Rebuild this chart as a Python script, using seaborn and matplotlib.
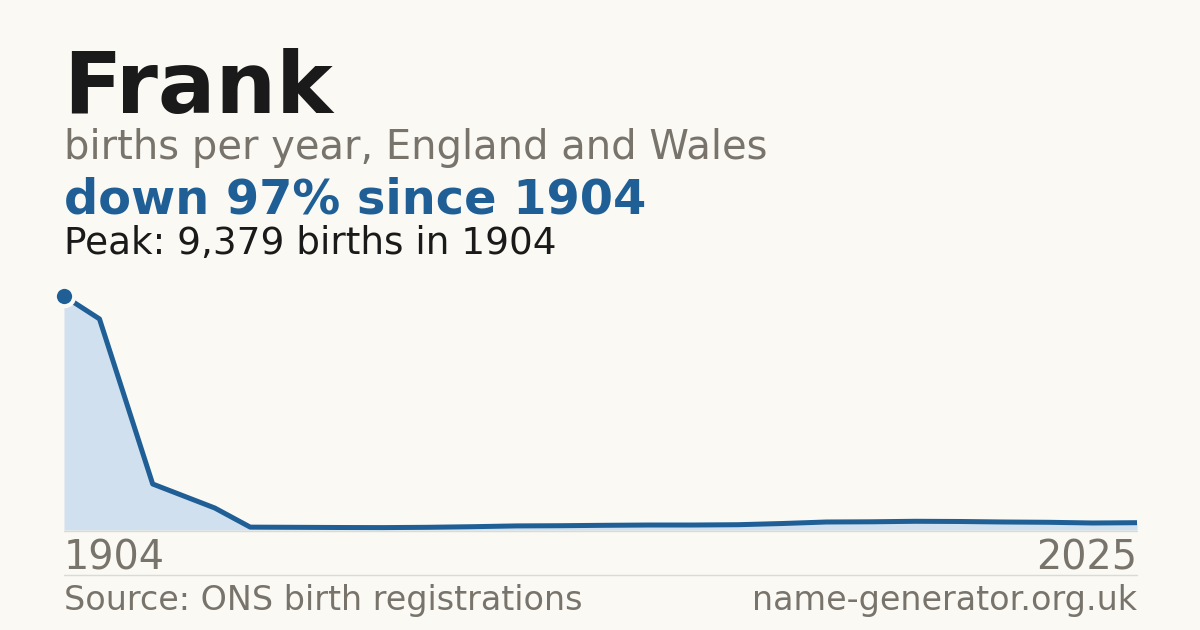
import matplotlib
matplotlib.use("Agg")
import matplotlib.pyplot as plt
import seaborn as sns
import pandas as pd

# births per year for Frank
years = [1904, 1908, 1914, 1921, 1925, 1930, 1935, 1940, 1945, 1950, 1955,
         1960, 1965, 1970, 1975, 1980, 1985, 1990, 1995, 2000, 2005, 2010,
         2015, 2020, 2025]
births = [9379, 8460, 1844, 882, 115, 108, 100, 96, 108, 132, 164,
          172, 188, 200, 200, 212, 260, 321, 329, 349, 341, 321,
          309, 281, 293]

peak_year = 1904
peak_value = 9379

df = pd.DataFrame({"year": years, "births": births})

BG = "#faf9f4"
BLUE = "#1f5f96"
FILL = "#d0e0ef"
GREY = "#78746c"
DARK = "#1a1a1a"

sns.set_theme(style="white")
plt.rcParams["font.family"] = ["DejaVu Sans"]

fig = plt.figure(figsize=(12, 6.3), dpi=100, facecolor=BG)
W, H = 1200, 630

# plot area: x 64..1137 px, y baseline 530 px, peak 296 px
ax = fig.add_axes([64 / W, 1 - 530 / H, (1137 - 64) / W, (530 - 296) / H])
ax.set_facecolor(BG)

ax.fill_between(df["year"], df["births"], 0, color=FILL, lw=0)
sns.lineplot(data=df, x="year", y="births", ax=ax, color=BLUE, lw=3.6,
             solid_capstyle="butt", clip_on=False)
ax.plot([peak_year], [peak_value], "o", ms=14, color=BLUE, mec=BG, mew=3,
        clip_on=False, zorder=5)

ax.set_xlim(1904, 2025)
ax.set_ylim(0, peak_value)
ax.axis("off")

# thin rules
fig.add_artist(plt.Line2D([64 / W, 1137 / W], [1 - 530.5 / H] * 2,
                          color="#dddad2", lw=1))
fig.add_artist(plt.Line2D([64 / W, 1137 / W], [1 - 574.5 / H] * 2,
                          color="#dddad2", lw=1))


def txt(x, y, s, size, color, weight="normal", ha="left"):
    fig.text(x / W, 1 - y / H, s, fontsize=size, color=color,
             fontweight=weight, ha=ha, va="baseline")


txt(63, 113, "Frank", 61.5, DARK, "bold")
txt(64, 159, "births per year, England and Wales", 28.8, GREY)
txt(64, 214, "down 97% since 1904", 34.5, BLUE, "bold")
txt(64, 254, "Peak: 9,379 births in 1904", 26.9, DARK)
txt(64, 570, "1904", 28.6, GREY)
txt(1137, 570, "2025", 28.6, GREY, ha="right")
txt(64, 610, "Source: ONS birth registrations", 24, GREY)
txt(1137, 610, "name-generator.org.uk", 24, GREY, ha="right")

fig.savefig("out.png", dpi=100, facecolor=BG)
